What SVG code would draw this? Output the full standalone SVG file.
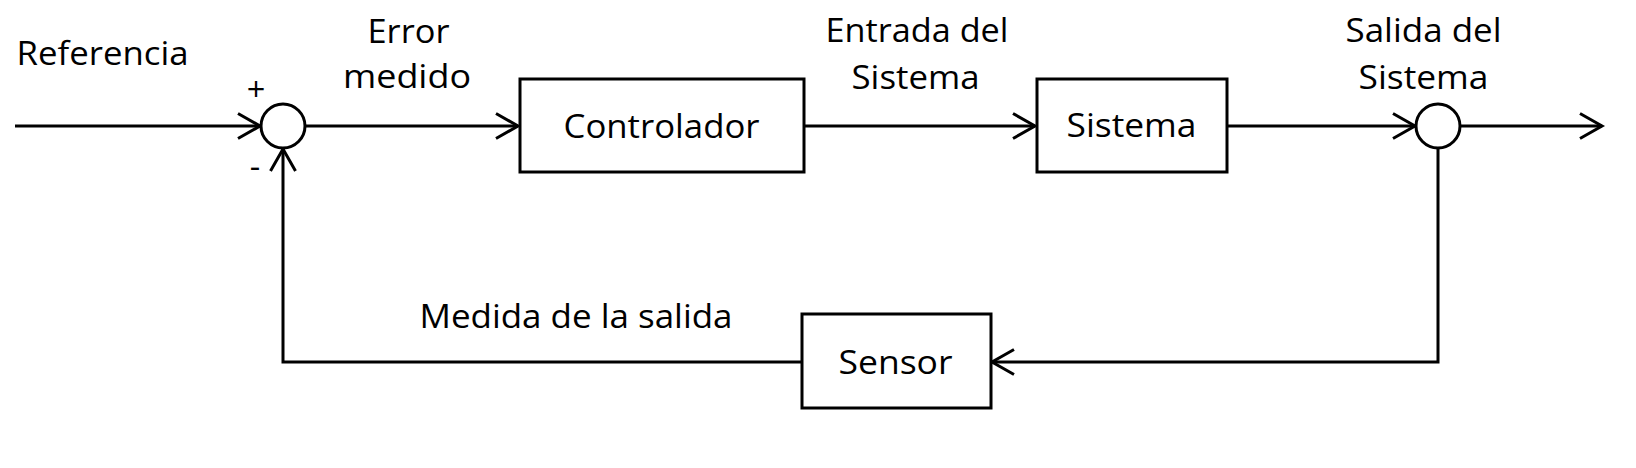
<svg xmlns="http://www.w3.org/2000/svg" width="1636" height="468" viewBox="0 0 1636 468">
<style>
  .box { fill: #ffffff; stroke: #000000; stroke-width: 3; }
  .sum { fill: #ffffff; stroke: #000000; stroke-width: 3; }
  .wire { fill: none; stroke: #000000; stroke-width: 3; stroke-linejoin: miter; }
  .arrow { marker-end: url(#open); }
  text { font-family: "Open Sans", "Noto Sans", "Liberation Sans", sans-serif; font-size: 32.5px; fill: #000000; text-anchor: middle; }
</style>
<defs>
  <marker id="open" markerUnits="userSpaceOnUse" markerWidth="30" markerHeight="34" viewBox="-26 -15 30 30" refX="0" refY="0" orient="auto" overflow="visible">
    <path d="M -22 -12.5 L 0 0 L -22 12.5" fill="none" stroke="#000000" stroke-width="3" stroke-linejoin="miter"/>
  </marker>
</defs>
<rect width="1636" height="468" fill="#ffffff"/>

<g id="connectors">
  <path class="wire arrow" d="M 15 126 H 260"/>
  <path class="wire arrow" d="M 305 126 H 518"/>
  <path class="wire arrow" d="M 804 126 H 1035"/>
  <path class="wire arrow" d="M 1227 126 H 1415"/>
  <path class="wire arrow" d="M 1460 126 H 1602"/>
  <path class="wire arrow" d="M 1438 148 V 362 H 992"/>
  <path class="wire arrow" d="M 802 362 H 283 V 149"/>
</g>

<g id="label-referencia"><text x="102.5" y="65" textLength="172" lengthAdjust="spacingAndGlyphs">Referencia</text></g>
<g id="label-error"><text x="408.5" y="43" textLength="82" lengthAdjust="spacingAndGlyphs">Error</text><text x="407" y="88" textLength="128" lengthAdjust="spacingAndGlyphs">medido</text></g>
<g id="label-entrada"><text x="917" y="42" textLength="183" lengthAdjust="spacingAndGlyphs">Entrada del</text><text x="915.5" y="89" textLength="128" lengthAdjust="spacingAndGlyphs">Sistema</text></g>
<g id="label-salida"><text x="1423.5" y="42" textLength="156" lengthAdjust="spacingAndGlyphs">Salida del</text><text x="1423.5" y="89" textLength="130" lengthAdjust="spacingAndGlyphs">Sistema</text></g>
<g id="label-medida"><text x="576" y="328" textLength="313" lengthAdjust="spacingAndGlyphs">Medida de la salida</text></g>

<g id="sum1">
  <circle class="sum" cx="283" cy="126" r="22"/>
  <text x="256" y="101">+</text>
  <text x="255" y="178">-</text>
</g>

<g id="controlador">
  <rect class="box" x="520" y="79" width="284" height="93"/>
  <text x="661.5" y="138" textLength="196" lengthAdjust="spacingAndGlyphs">Controlador</text>
</g>

<g id="sistema">
  <rect class="box" x="1037" y="79" width="190" height="93"/>
  <text x="1131.5" y="137" textLength="130" lengthAdjust="spacingAndGlyphs">Sistema</text>
</g>

<g id="sum2">
  <circle class="sum" cx="1438" cy="126" r="22"/>
</g>

<g id="sensor">
  <rect class="box" x="802" y="314" width="189" height="94"/>
  <text x="895.5" y="374" textLength="114" lengthAdjust="spacingAndGlyphs">Sensor</text>
</g>
</svg>
